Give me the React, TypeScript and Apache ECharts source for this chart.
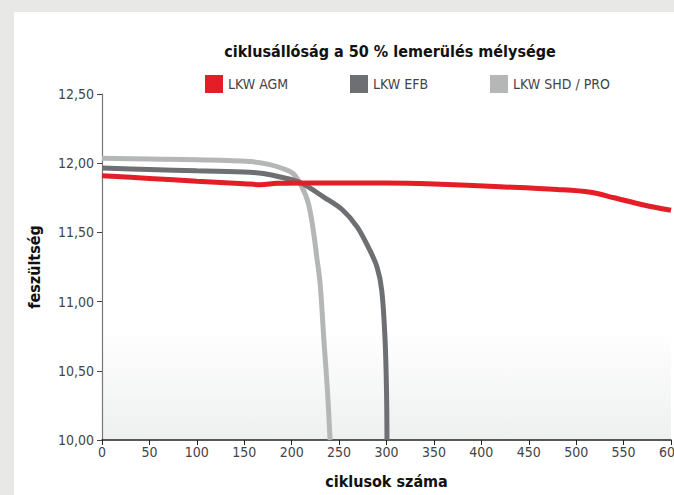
import React, { useEffect, useRef } from "react";
import * as echarts from "echarts";

const TITLE = "ciklusállóság a 50 % lemerülés mélysége";
const X_NAME = "ciklusok száma";
const Y_NAME = "feszültség";
const SERIES_NAMES = ["LKW AGM", "LKW EFB", "LKW SHD / PRO"];
const COLORS = ["#e31e26", "#6d6f72", "#b4b7b6"];

const AGM_X = [0, 50, 100, 150, 167, 185, 220, 300, 350, 420, 480, 515, 540, 570, 600];
const AGM_Y = [11.91, 11.89, 11.87, 11.852, 11.845, 11.855, 11.857, 11.857, 11.85, 11.83, 11.81, 11.79, 11.75, 11.70, 11.66];

const EFB_X = [0, 50, 100, 156, 170, 188, 209, 235, 254, 269, 281, 290, 295, 298.5, 300, 300.5];
const EFB_Y = [11.965, 11.955, 11.945, 11.935, 11.925, 11.9, 11.86, 11.75, 11.66, 11.54, 11.39, 11.25, 11.08, 10.72, 10.36, 10.0];

const SHD_X = [0, 50, 100, 156, 177, 191, 201.7, 210.6, 217.6, 222.9, 226.5, 230, 234, 237.7, 240.5];
const SHD_Y = [12.035, 12.03, 12.025, 12.012, 11.99, 11.96, 11.925, 11.83, 11.71, 11.51, 11.32, 11.13, 10.72, 10.36, 10.0];

const FONT = "'Liberation Sans Narrow', 'DejaVu Sans Condensed', 'Liberation Sans', sans-serif";

function zip(xs: number[], ys: number[]) {
  return xs.map((x, i) => [x, ys[i]]);
}

export default function App() {
  const ref = useRef<HTMLDivElement>(null);
  useEffect(() => {
    if (!ref.current) return;
    const chart = echarts.init(ref.current, null, { renderer: "svg" });
    const legendPos = [200, 345, 485];
    chart.setOption({
      animation: false,
      title: {
        text: TITLE,
        left: 385,
        top: 38,
        textAlign: "center",
        textStyle: { fontFamily: FONT, fontSize: 16, fontWeight: "bold", color: "#111" },
      },
      legend: SERIES_NAMES.map((n, i) => ({
        data: [n],
        left: legendPos[i],
        top: 70,
        icon: "rect",
        itemWidth: 18,
        itemHeight: 18,
        textStyle: { fontFamily: FONT, fontSize: 14, color: "#444" },
      })),
      grid: {
        left: 102,
        right: 3,
        top: 94,
        bottom: 55,
        outerBoundsMode: "none",
        containLabel: false,
        show: true,
        borderWidth: 0,
        backgroundColor: new echarts.graphic.LinearGradient(0, 0, 0, 1, [
          { offset: 0, color: "#ffffff" },
          { offset: 0.68, color: "#ffffff" },
          { offset: 1, color: "#eef0ef" },
        ]),
      },
      xAxis: {
        type: "value",
        min: 0,
        max: 600,
        interval: 50,
        name: X_NAME,
        nameLocation: "middle",
        nameGap: 33,
        nameTextStyle: { fontFamily: FONT, fontSize: 16, fontWeight: "bold", color: "#111" },
        axisLine: { show: true, lineStyle: { color: "#222", width: 1.5 } },
        axisTick: { show: true, length: 5, lineStyle: { color: "#222" } },
        axisLabel: { fontFamily: FONT, fontSize: 14, color: "#444", margin: 5 },
        splitLine: { show: false },
      },
      yAxis: {
        type: "value",
        min: 10,
        max: 12.5,
        interval: 0.5,
        name: Y_NAME,
        nameLocation: "middle",
        nameGap: 60,
        nameTextStyle: { fontFamily: FONT, fontSize: 16, fontWeight: "bold", color: "#111" },
        axisLine: { show: true, lineStyle: { color: "#777", width: 1.2 } },
        axisTick: { show: true, length: 5, lineStyle: { color: "#444" } },
        axisLabel: {
          fontFamily: FONT,
          fontSize: 14,
          color: "#444",
          margin: 8,
          formatter: (v: number) => v.toFixed(2).replace(".", ","),
        },
        splitLine: { show: false },
      },
      series: [
        {
          name: SERIES_NAMES[2],
          type: "line",
          data: zip(SHD_X, SHD_Y),
          smooth: 0.35,
          showSymbol: false,
          color: COLORS[2],
          lineStyle: { width: 5, color: COLORS[2] },
        },
        {
          name: SERIES_NAMES[1],
          type: "line",
          data: zip(EFB_X, EFB_Y),
          smooth: 0.35,
          showSymbol: false,
          color: COLORS[1],
          lineStyle: { width: 5, color: COLORS[1] },
        },
        {
          name: SERIES_NAMES[0],
          type: "line",
          data: zip(AGM_X, AGM_Y),
          smooth: 0.35,
          showSymbol: false,
          color: COLORS[0],
          lineStyle: { width: 5, color: COLORS[0] },
        },
      ],
    });
    return () => chart.dispose();
  }, []);
  return (
    <div style={{ position: "fixed", left: 0, top: 0, width: 674, height: 495, background: "#e8e9e6" }}>
      <div style={{ position: "absolute", left: 14, top: 12, right: 0, bottom: 0, background: "#ffffff" }} />
      <div ref={ref} style={{ position: "absolute", left: 0, top: 0, width: 674, height: 495 }} />
    </div>
  );
}
